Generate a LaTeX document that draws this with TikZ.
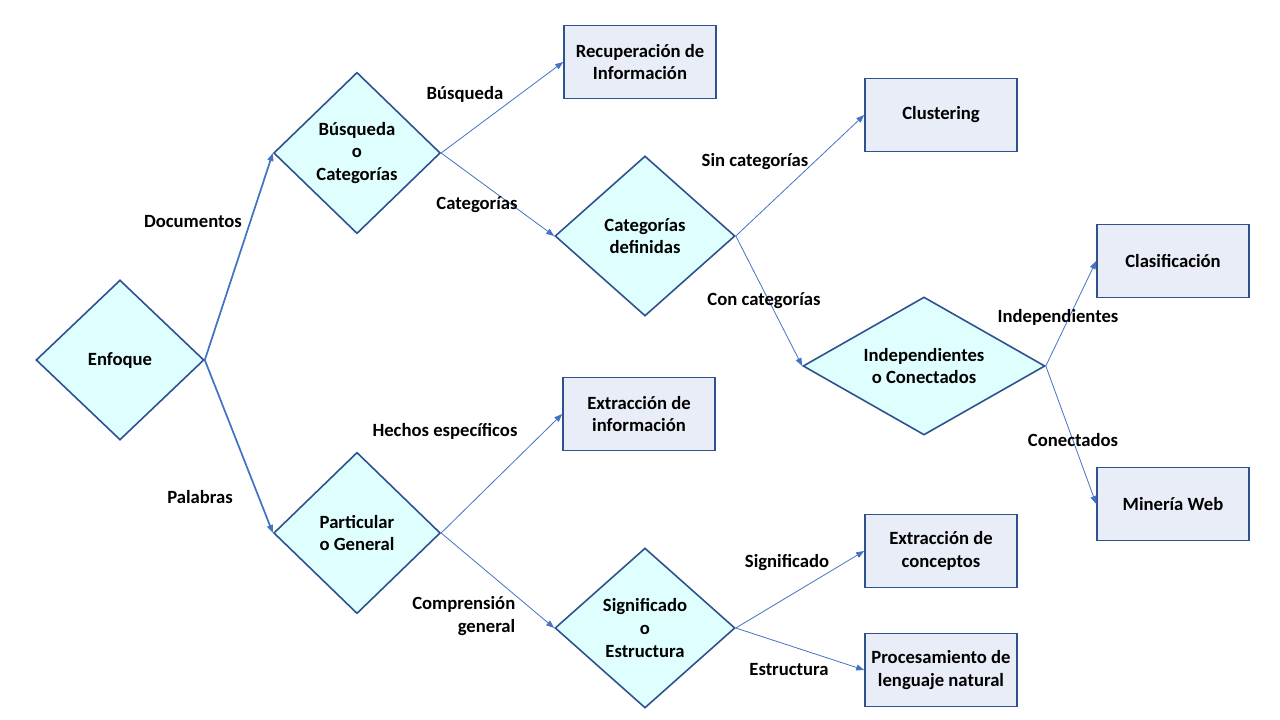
\documentclass[tikz,border=0pt]{standalone}
\usepackage{fontspec}
\setmainfont{Carlito}
\usetikzlibrary{shapes.geometric,arrows.meta}
\definecolor{rombofill}{HTML}{DFFFFF}
\definecolor{cajafill}{HTML}{E9EDF7}
\definecolor{borde}{HTML}{2F528F}
\definecolor{flecha}{HTML}{4472C4}
\tikzset{
  rombo/.style={diamond, draw=borde, fill=rombofill, line width=1.2pt,
                inner sep=0pt, align=center},
  caja/.style={rectangle, draw=borde, fill=cajafill, line width=1.2pt,
               minimum width=114pt, minimum height=55pt, align=center},
  arr/.style={draw=flecha, -{Triangle[length=6pt,width=4.5pt]}, line width=0.6pt},
  arrgrueso/.style={arr, line width=1.3pt},
  lbl/.style={align=center}
}
\begin{document}
\begin{tikzpicture}[x=0.75pt, y=-0.75pt,
    every node/.style={font=\fontsize{14}{17}\selectfont\bfseries}]
  \useasboundingbox (0,0) rectangle (1280,720);
  % rombos
  \node[rombo, minimum width=126pt, minimum height=120pt] (enf) at (120,360) {Enfoque};
  \node[rombo, minimum width=125pt, minimum height=121pt] (busq) at (357,153) {Búsqueda\\o\\Categorías};
  \node[rombo, minimum width=135pt, minimum height=120pt] (catdef) at (645,236) {Categorías\\definidas};
  \node[rombo, aspect=2.2, minimum width=181.5pt, minimum height=103.5pt] (indep) at (924,366) {Independientes\\o Conectados};
  \node[rombo, minimum width=125pt, minimum height=121pt] (partic) at (357,533) {Particular\\o General};
  \node[rombo, minimum width=135pt, minimum height=120pt] (signif) at (645,628) {Significado\\o\\Estructura};
  % cajas
  \node[caja] (recup) at (640,62) {Recuperación de\\Información};
  \node[caja] (clust) at (941,115) {Clustering};
  \node[caja] (clasif) at (1173,261) {Clasificación};
  \node[caja] (mineria) at (1173,504) {Minería Web};
  \node[caja] (extinfo) at (639,414) {Extracción de\\información};
  \node[caja] (extconc) at (941,551) {Extracción de\\conceptos};
  \node[caja] (pln) at (941,670) {Procesamiento de\\lenguaje natural};
  % conectores
  \draw[arrgrueso] (enf.east) -- (busq.west);
  \draw[arrgrueso] (enf.east) -- (partic.west);
  \draw[arr] (busq.east) -- (recup.west);
  \draw[arr] (busq.east) -- (catdef.west);
  \draw[arr] (catdef.east) -- (clust.west);
  \draw[arr] (catdef.east) -- (indep.west);
  \draw[arr] (indep.east) -- (clasif.west);
  \draw[arr] (indep.east) -- (mineria.west);
  \draw[arr] (partic.east) -- (extinfo.west);
  \draw[arr] (partic.east) -- (signif.west);
  \draw[arr] (signif.east) -- (extconc.west);
  \draw[arr] (signif.east) -- (pln.west);
  % etiquetas
  \node[lbl] (lbdoc) at (193,222) {Documentos};
  \node[lbl] (lbpal) at (200,497) {Palabras};
  \node[lbl] (lbbus) at (465,94) {Búsqueda};
  \node[lbl] (lbcat) at (477,205) {Categorías};
  \node[lbl] (lbsin) at (755,162) {Sin categorías};
  \node[lbl] (lbcon) at (764,301) {Con categorías};
  \node[lbl] (lbind) at (1058,317) {Independientes};
  \node[lbl] (lbconec) at (1073,440) {Conectados};
  \node[lbl] (lbhech) at (445,431) {Hechos específicos};
  \node[align=right, anchor=east] (lbcomp) at (520,616) {Comprensión\\general};
  \node[lbl] (lbsig) at (787,563) {Significado};
  \node[lbl] (lbest) at (789,670) {Estructura};
\end{tikzpicture}
\end{document}
